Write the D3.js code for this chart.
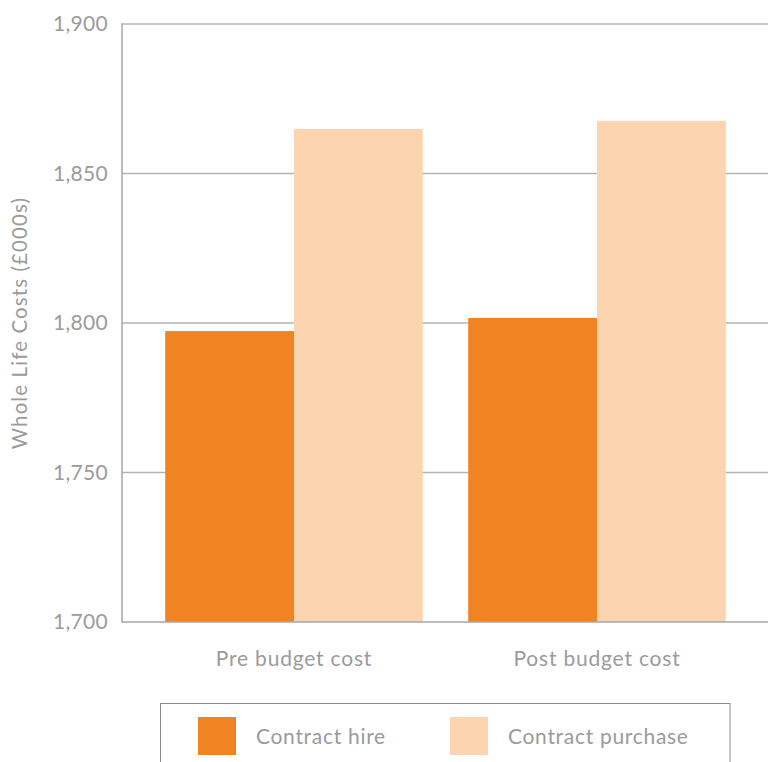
<!DOCTYPE html>
<html>
<head>
<meta charset="utf-8">
<script src="https://cdn.jsdelivr.net/npm/d3@7"></script>
<style>
  html, body { margin: 0; padding: 0; background: #fff; }
  svg text { font-family: Lato, "Open Sans", sans-serif; fill: #9b9b9b; }
</style>
</head>
<body>
<div id="chart"></div>
<script>
var categories = ["Pre budget cost", "Post budget cost"];
var seriesNames = ["Contract hire", "Contract purchase"];
var hireValues = [1797.3, 1801.7];
var purchaseValues = [1864.9, 1867.6];
var yTicks = [1700, 1750, 1800, 1850, 1900];
var colors = ["#f28323", "#fcd5b0"];

var W = 768, H = 762;
var plot = { left: 122, right: 768, top: 24, bottom: 622 };

var svg = d3.select("#chart").append("svg")
  .attr("width", W)
  .attr("height", H);

var y = d3.scaleLinear()
  .domain([1700, 1900])
  .range([plot.bottom, plot.top]);

var x0 = d3.scaleBand()
  .domain(categories)
  .range([142.5, 748.5])
  .paddingInner(0.15)
  .paddingOuter(0.075);

var x1 = d3.scaleBand()
  .domain(seriesNames)
  .range([0, x0.bandwidth()]);

// gridlines
svg.append("g")
  .selectAll("line")
  .data(yTicks.filter(d => d > 1700))
  .enter()
  .append("line")
  .attr("x1", plot.left)
  .attr("x2", plot.right)
  .attr("y1", d => y(d))
  .attr("y2", d => y(d))
  .attr("stroke", "#b3b3b3")
  .attr("stroke-width", 1.5);

// bars
var rows = categories.map((c, i) => ({ cat: c, vals: [hireValues[i], purchaseValues[i]] }));
var grp = svg.append("g").selectAll("g")
  .data(rows)
  .enter()
  .append("g")
  .attr("transform", d => "translate(" + x0(d.cat) + ",0)");

grp.selectAll("rect")
  .data(d => d.vals.map((v, j) => ({ name: seriesNames[j], v: v, j: j })))
  .enter()
  .append("rect")
  .attr("x", d => x1(d.name))
  .attr("width", x1.bandwidth())
  .attr("y", d => y(d.v))
  .attr("height", d => y(1700) - y(d.v))
  .attr("fill", d => colors[d.j]);

// axes lines
svg.append("line")
  .attr("x1", plot.left).attr("x2", plot.left)
  .attr("y1", plot.top - 0.75).attr("y2", plot.bottom + 0.75)
  .attr("stroke", "#a6a6a6").attr("stroke-width", 1.5);
svg.append("line")
  .attr("x1", plot.left).attr("x2", plot.right)
  .attr("y1", plot.bottom).attr("y2", plot.bottom)
  .attr("stroke", "#a6a6a6").attr("stroke-width", 1.5);

// y tick labels
svg.append("g")
  .selectAll("text")
  .data(yTicks)
  .enter()
  .append("text")
  .attr("x", 108)
  .attr("y", d => y(d))
  .attr("dy", "0.35em")
  .attr("text-anchor", "end")
  .style("font-size", "21px")
  .style("letter-spacing", "0.3px")
  .text(d => d3.format(",")(d));

// x labels
svg.append("g")
  .selectAll("text")
  .data(categories)
  .enter()
  .append("text")
  .attr("x", d => x0(d) + x0.bandwidth() / 2)
  .attr("y", 666)
  .attr("text-anchor", "middle")
  .style("font-size", "21px")
  .style("letter-spacing", "0.8px")
  .text(d => d);

// y title
svg.append("text")
  .attr("transform", "translate(27," + ((plot.top + plot.bottom) / 2) + ") rotate(-90)")
  .attr("text-anchor", "middle")
  .style("font-size", "20.5px")
  .style("letter-spacing", "1.1px")
  .text("Whole Life Costs (£000s)");

// legend
var legend = svg.append("g");
legend.append("rect")
  .attr("x", 160.5).attr("y", 703.5)
  .attr("width", 569.5).attr("height", 100)
  .attr("fill", "none")
  .attr("stroke", "#8c8c8c")
  .attr("stroke-width", 1);

var legX = [198, 450];
var items = legend.selectAll("g.item")
  .data(seriesNames)
  .enter()
  .append("g")
  .attr("class", "item")
  .attr("transform", (d, i) => "translate(" + legX[i] + ",717)");
items.append("rect")
  .attr("width", 38).attr("height", 38)
  .attr("fill", (d, i) => colors[i]);
items.append("text")
  .attr("x", 58)
  .attr("y", 27)
  .style("font-size", "21px")
  .style("letter-spacing", "0.7px")
  .text(d => d);
</script>
</body>
</html>
